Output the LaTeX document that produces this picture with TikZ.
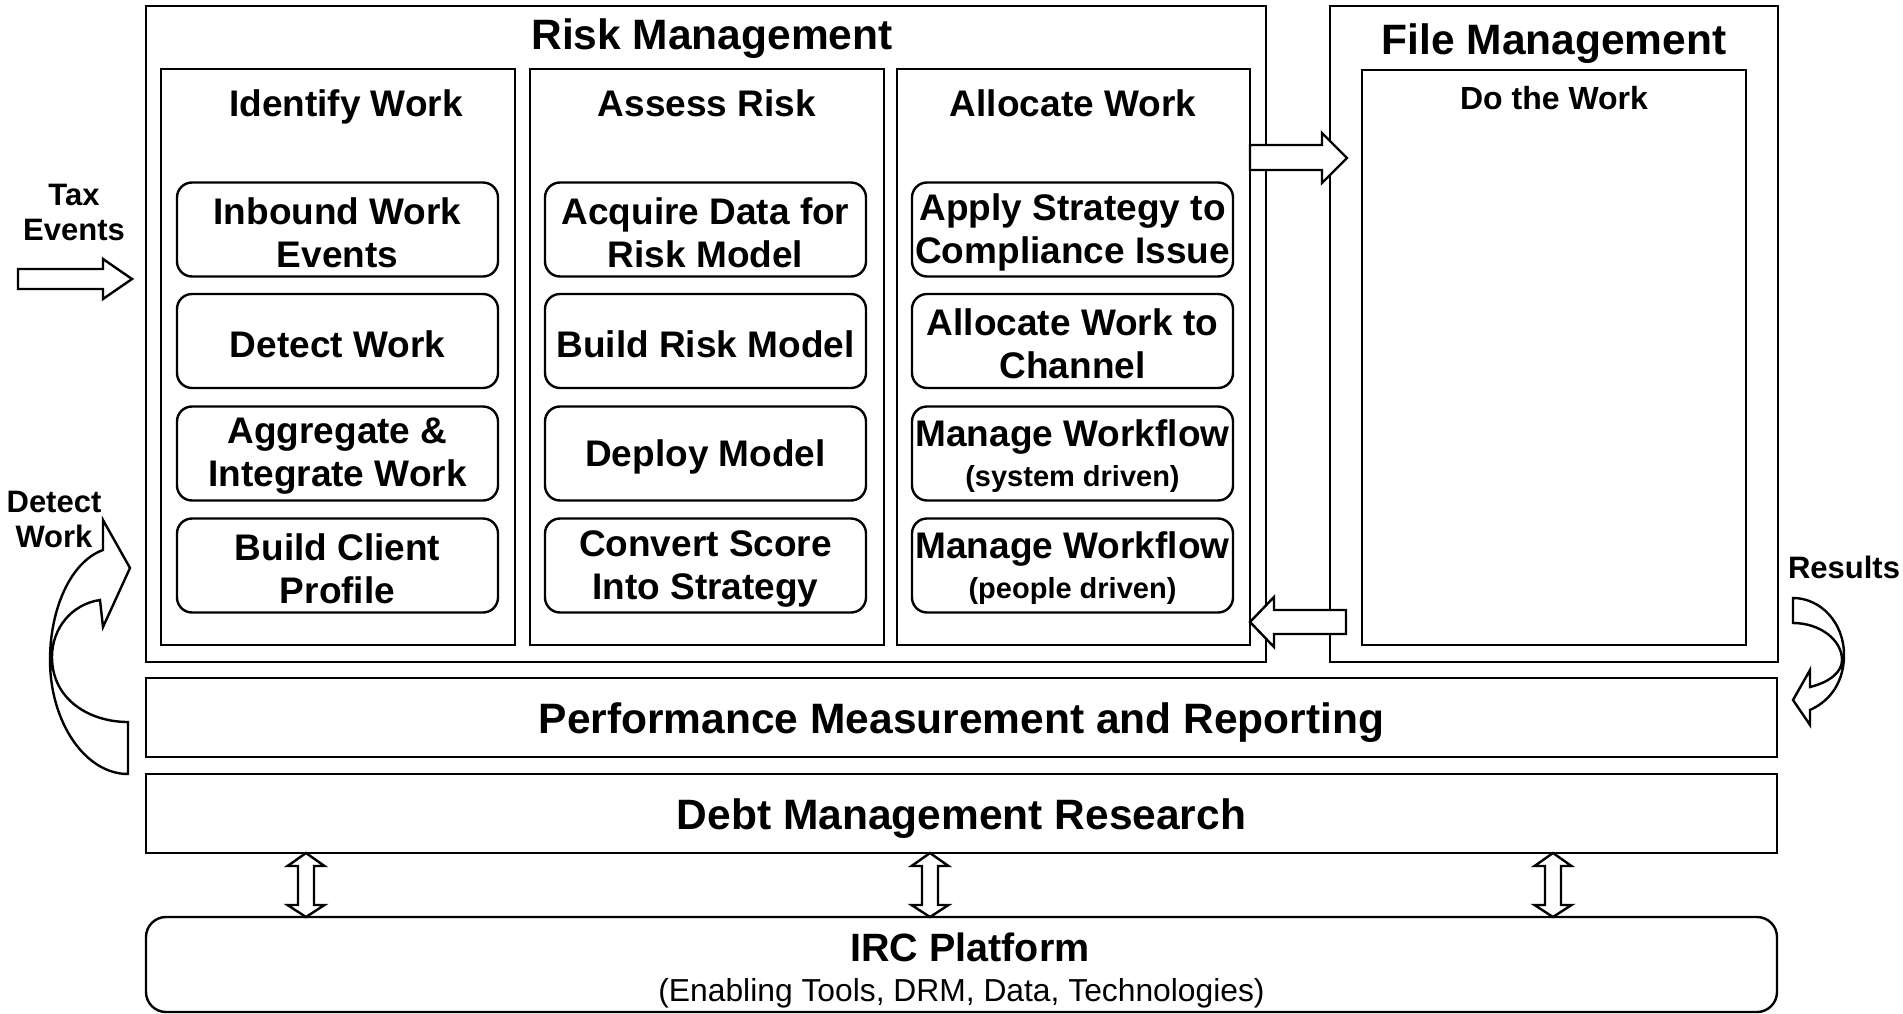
\documentclass[tikz,border=0pt]{standalone}
\usepackage{fontspec}
\setmainfont{Liberation Sans}
\tikzset{
  frame/.style={draw, line width=2.4pt, inner sep=0pt},
  rbox/.style={draw, line width=2.4pt, rounded corners=15pt, minimum width=321pt, minimum height=94pt, inner sep=0pt},
  rtxt/.style={inner sep=0pt, align=center, font=\fontsize{37}{43}\selectfont\bfseries},
  blk/.style={draw, fill=white, line width=2.4pt, line join=miter},
  ttl/.style={anchor=base, inner sep=0pt, font=\fontsize{42.5}{50}\selectfont\bfseries},
  hdr/.style={anchor=base, inner sep=0pt, font=\fontsize{37}{43}\selectfont\bfseries},
  side/.style={inner sep=0pt, align=center, font=\fontsize{31}{35}\selectfont\bfseries},
}
\newcommand{\smalltxt}[1]{{\fontsize{29}{34}\selectfont #1}}
\newcommand{\rbx}[3]{\node[rbox] (#1) at (#2) {};
  \node[rtxt] (#1t) at ([yshift=-3pt]#1.center) {#3};}
\begin{document}
\begin{tikzpicture}[x=1pt, y=-1pt]
\useasboundingbox (0,0) rectangle (1903,1014);
% outer frames
\node[frame, minimum width=1120pt, minimum height=656pt] (risk) at (706,334) {};
\node[frame, minimum width=448pt, minimum height=656pt] (file) at (1554,334) {};
\node[frame, minimum width=354pt, minimum height=576pt] (ident) at (338,357) {};
\node[frame, minimum width=354pt, minimum height=576pt] (assess) at (707,357) {};
\node[frame, minimum width=353pt, minimum height=576pt] (alloc) at (1073.5,357) {};
\node[frame, minimum width=384pt, minimum height=575pt] (dowork) at (1554,357.5) {};
% titles
\node[ttl] (riskt) at (712,50) {Risk Management};
\node[ttl] (filet) at (1554,55) {File Management};
\node[hdr] (identt) at (346,117) {Identify Work};
\node[hdr] (assesst) at (707,117) {Assess Risk};
\node[hdr] (alloct) at (1073,117) {Allocate Work};
\node[anchor=base, inner sep=0pt, font=\fontsize{32}{38}\selectfont\bfseries] (doworkt) at (1554,110) {Do the Work};
% identify boxes
\rbx{i1}{337.5,229.5}{Inbound Work\\Events}
\rbx{i2}{337.5,341}{Detect Work}
\rbx{i3}{337.5,453.5}{Aggregate \&\\Integrate Work}
\rbx{i4}{337.5,565.5}{Build Client\\Profile}
% assess boxes
\rbx{a1}{705.5,229.5}{Acquire Data for\\Risk Model}
\rbx{a2}{705.5,341}{Build Risk Model}
\rbx{a3}{705.5,453.5}{Deploy Model}
\rbx{a4}{705.5,565.5}{Convert Score\\Into Strategy}
% allocate boxes
\rbx{l1}{1072.5,229.5}{Apply Strategy to\\Compliance Issue}
\rbx{l2}{1072.5,341}{Allocate Work to\\Channel}
\rbx{l3}{1072.5,453.5}{Manage Workflow\\[-3pt]\smalltxt{(system driven)}}
\rbx{l4}{1072.5,565.5}{Manage Workflow\\[-3pt]\smalltxt{(people driven)}}
% bottom bands
\node[frame, minimum width=1631pt, minimum height=79pt] (perf) at (961.5,717.5) {};
\node[ttl] (perft) at (961.5,733) {Performance Measurement and Reporting};
\node[frame, minimum width=1631pt, minimum height=79pt] (debt) at (961.5,813.5) {};
\node[ttl] (debtt) at (961.5,829) {Debt Management Research};
\node[frame, rounded corners=20pt, minimum width=1631pt, minimum height=95pt] (irc) at (961.5,964.5) {};
\node[anchor=base, inner sep=0pt, font=\fontsize{39.5}{46}\selectfont\bfseries] (irct) at (970,961) {IRC Platform};
\node[anchor=base, inner sep=0pt, font=\fontsize{31.8}{37}\selectfont] (ircs) at (961.5,1001) {(Enabling Tools, DRM, Data, Technologies)};
% side labels
\node[side] (tax) at (74,212) {Tax\\Events};
\node[side] (detl) at (54,519) {Detect\\Work};
\node[anchor=base, inner sep=0pt, font=\fontsize{31}{35}\selectfont\bfseries] (res) at (1844,578) {Results};
% block arrows
\draw[blk] (1250,145) -- (1322,145) -- (1322,133) -- (1347,158) -- (1322,183) -- (1322,170) -- (1250,170) -- cycle;
\draw[blk] (1346,610) -- (1274,610) -- (1274,597) -- (1250,622) -- (1274,647) -- (1274,634) -- (1346,634) -- cycle;
\draw[blk] (18,269) -- (103,269) -- (103,259) -- (132,279) -- (103,299) -- (103,289) -- (18,289) -- cycle;
% double arrows
\foreach \cx in {306,930,1553}{
  \draw[blk] (\cx,853) -- (\cx+18.5,866) -- (\cx+8,866) -- (\cx+8,905) -- (\cx+18.5,905) -- (\cx,917)
    -- (\cx-18.5,905) -- (\cx-8,905) -- (\cx-8,866) -- (\cx-18.5,866) -- cycle;
}
% curved arrow Detect Work
\draw[blk] (128,774) -- (128,722) .. controls (90,722) and (52,700) .. (52,657)
  .. controls (52,628) and (72,604) .. (100,600) -- (103,627) -- (130,568) -- (103,520) -- (103,550)
  .. controls (70,562) and (50,610) .. (50,660) .. controls (50,722) and (85,774) .. (128,774) -- cycle;
% curved arrow Results
\draw[blk] (1793,598) -- (1793,623) .. controls (1820,623) and (1842,640) .. (1842,660)
  .. controls (1842,672) and (1830,682) .. (1810,687) -- (1810,670) -- (1793,700) -- (1810,725) -- (1810,710)
  .. controls (1832,700) and (1844,680) .. (1844,655) .. controls (1844,622) and (1820,598) .. (1793,598) -- cycle;
\end{tikzpicture}
\end{document}
